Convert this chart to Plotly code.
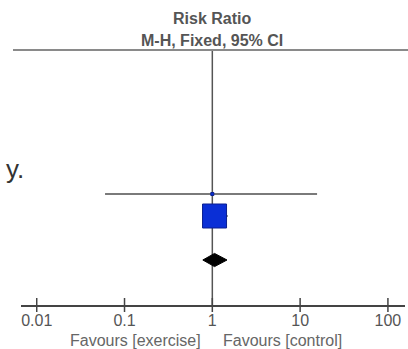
import plotly.graph_objects as go

# ---- data ----
study_rr = [1.0, 1.06]
study_lo = [0.06, 0.78]
study_hi = [15.6, 1.50]
study_row = [0, 1]
study_size = [3, 24]
total_rr = 1.06
total_lo = 0.78
total_hi = 1.47
total_row = 3
tick_vals = [0.01, 0.1, 1, 10, 100]
tick_text = ["0.01", "0.1", "1", "10", "100"]

W, H = 408, 349
L, R, T, B = 21, 3, 50, 44
plot_w = W - L - R
plot_h = H - T - B
x_range = [-2.179, -2.179 + plot_w / 87.8]
y_top, y_bot = -6.545, 5.045

fig = go.Figure()

# null line
fig.add_shape(type="line", xref="x", yref="paper", x0=1, x1=1, y0=0, y1=1,
              line=dict(color="#555555", width=1.5), layer="below")

# CI lines
for rr, lo, hi, row in zip(study_rr, study_lo, study_hi, study_row):
    fig.add_trace(go.Scatter(x=[lo, hi], y=[row, row], mode="lines",
                             line=dict(color="#7a7a7a", width=2), hoverinfo="skip"))

# squares
fig.add_trace(go.Scatter(x=study_rr, y=study_row, mode="markers",
                         marker=dict(symbol="square", size=study_size, color="#0a2fd6",
                                     opacity=1,
                                     line=dict(color="#0a1f90", width=1)),
                         hoverinfo="skip"))

# diamond
dh = 0.3
fig.add_trace(go.Scatter(x=[total_lo, total_rr, total_hi, total_rr, total_lo],
                         y=[total_row, total_row - dh, total_row, total_row + dh, total_row],
                         mode="lines", fill="toself", fillcolor="#000000",
                         line=dict(color="#000000", width=1), hoverinfo="skip"))

# cross ticks on axis
fig.add_trace(go.Scatter(x=tick_vals, y=[y_bot] * len(tick_vals), mode="markers",
                         marker=dict(symbol="line-ns", size=10,
                                     line=dict(color="#444444", width=1.5)),
                         cliponaxis=False, hoverinfo="skip"))

# top horizontal line
fig.add_shape(type="line", xref="paper", yref="paper",
              x0=(13 - L) / plot_w, x1=(408 - L) / plot_w, y0=1, y1=1,
              line=dict(color="#8a8a8a", width=2))

fig.update_layout(
    width=W, height=H, margin=dict(l=L, r=R, t=T, b=B),
    paper_bgcolor="white", plot_bgcolor="white", showlegend=False,
    font=dict(family="Liberation Sans, Arial, sans-serif", color="#555555", size=16),
    xaxis=dict(type="log", range=x_range, tickvals=tick_vals, ticktext=tick_text,
               showgrid=False, zeroline=False, showline=True, linecolor="#444444",
               linewidth=1.5, ticks="", tickfont=dict(size=16, color="#555555"),
               ticklabelstandoff=0),
    yaxis=dict(range=[y_bot, y_top], visible=False, showgrid=False, zeroline=False),
    annotations=[
        dict(text="<b>Risk Ratio</b>", xref="x", yref="paper", x=0, xanchor="center",
             y=1 + (T - 19) / plot_h, yanchor="middle",
             showarrow=False, font=dict(size=16, color="#555555")),
        dict(text="<b>M-H, Fixed, 95% CI</b>", xref="x", yref="paper", x=0, xanchor="center",
             y=1 + (T - 41) / plot_h, yanchor="middle",
             showarrow=False, font=dict(size=16, color="#555555")),
        dict(text="Favours [exercise]", xref="paper", yref="paper", xanchor="center",
             x=(135.5 - L) / plot_w, y=-(340 - (H - B)) / plot_h, yanchor="middle",
             showarrow=False, font=dict(size=16, color="#666666")),
        dict(text="Favours [control]", xref="paper", yref="paper", xanchor="center",
             x=(282.5 - L) / plot_w, y=-(340 - (H - B)) / plot_h, yanchor="middle",
             showarrow=False, font=dict(size=16, color="#666666")),
        dict(text="y.", xref="paper", yref="paper", x=(26 - L) / plot_w, xanchor="right",
             y=1 - (169 - T) / plot_h, yanchor="middle", showarrow=False,
             font=dict(size=26, color="#333333")),
    ],
)

fig.write_html("out.html")
